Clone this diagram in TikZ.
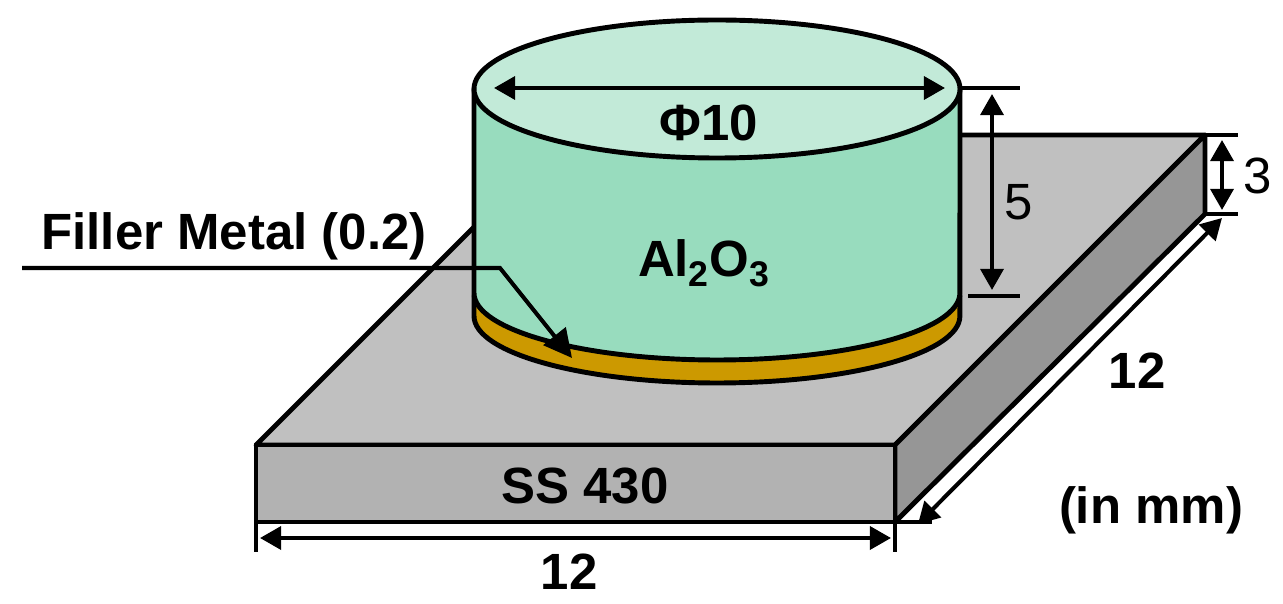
\documentclass[tikz,border=0pt]{standalone}
\usepackage{fontspec}
\setmainfont{Liberation Sans}
\usetikzlibrary{arrows.meta}
\definecolor{lidcol}{HTML}{C2EAD8}
\definecolor{bodycol}{HTML}{98DCBE}
\definecolor{fillercol}{HTML}{CC9900}
\definecolor{topcol}{HTML}{C0C0C0}
\definecolor{sidecol}{HTML}{969696}
\definecolor{frontcol}{HTML}{B2B2B2}
\tikzset{
  edge/.style={line width=2.8pt, line join=round},
  tick/.style={line width=2.3pt},
  dim/.style={line width=2.3pt, {Triangle[width=13pt,length=12pt]}-{Triangle[width=13pt,length=12pt]}},
  lbl/.style={font=\fontsize{29}{32}\selectfont\bfseries, inner sep=0pt},
  lblthin/.style={font=\fontsize{29}{32}\selectfont, inner sep=0pt}
}
\begin{document}
\begin{tikzpicture}[x=0.02cm,y=-0.02cm]
\useasboundingbox (0,0) rectangle (1283,604);

\coordinate (TL) at (256,445);
\coordinate (TR) at (895,445);
\coordinate (BL) at (566,135);
\coordinate (BR) at (1205,135);
\coordinate (FL) at (256,522);
\coordinate (FR) at (895,522);
\coordinate (SR) at (1205,214);

% plate
\draw[edge, fill=topcol] (TL) -- (BL) -- (BR) -- (TR) -- cycle;
\draw[edge, fill=sidecol] (TR) -- (BR) -- (SR) -- (FR) -- cycle;
\draw[edge, fill=frontcol] (TL) -- (TR) -- (FR) -- (FL) -- cycle;

% cylinder
\draw[edge, fill=fillercol] (474,296) -- (474,316) arc[start angle=180, end angle=360, x radius=4.86cm, y radius=1.34cm] -- (960,296) -- cycle;
\draw[edge, fill=bodycol] (474,89) -- (474,293) arc[start angle=180, end angle=360, x radius=4.86cm, y radius=1.34cm] -- (960,89) -- cycle;
\draw[edge, fill=lidcol] (717,89) ellipse [x radius=243, y radius=69];

% ticks
\coordinate (A1) at (962,88);
\coordinate (A2) at (1020,88);
\coordinate (B1) at (968,296);
\coordinate (B2) at (1020,296);
\coordinate (C2) at (1238,135);
\coordinate (D2) at (1238,214);
\coordinate (E1) at (256,552);
\coordinate (E2) at (895,552);
\coordinate (F2) at (932,522);
\draw[tick] (A1) -- (A2) (B1) -- (B2);
\draw[edge] (BR) -- (C2);
\draw[tick] (SR) -- (D2);
\draw[tick] (FL) -- (E1) (FR) -- (E2);
\draw[edge] (FR) -- (F2);

% dimensions
\coordinate (P1) at (494,88);
\coordinate (P2) at (945,88);
\coordinate (Q1) at (992,94);
\coordinate (Q2) at (992,290);
\coordinate (R1) at (1222,140);
\coordinate (R2) at (1222,210);
\coordinate (S1) at (260,538);
\coordinate (S2) at (891,538);
\coordinate (U1) at (918,524);
\coordinate (U2) at (1222,218);
\draw[dim] (P1) -- (P2);
\draw[dim] (Q1) -- (Q2);
\draw[dim] (R1) -- (R2);
\draw[dim] (S1) -- (S2);
\draw[dim] (U1) -- (U2);

% filler leader
\coordinate (L0) at (22,268);
\coordinate (L1) at (500,268);
\coordinate (L2) at (572,358);
\draw[line width=2.3pt, -{Triangle[width=16pt,length=16pt]}] (L0) -- (L1) -- (L2);

% labels
\node[lbl] (phi) at (709,123) {Φ10};
\node[lbl] (alumina) at (704,263) {Al\textsubscript{2}O\textsubscript{3}};
\node[lbl] (filler) at (234,236) {Filler Metal (0.2)};
\node[lbl] (steel) at (585,486) {SS 430};
\node[lbl] (widthA) at (569,572) {12};
\node[lbl] (widthB) at (1137,371) {12};
\node[lbl] (unit) at (1151,510) {(in mm)};
\node[lblthin] (fivemm) at (1019,202) {5};
\node[lblthin] (threemm) at (1258,176) {3};
\end{tikzpicture}
\end{document}
